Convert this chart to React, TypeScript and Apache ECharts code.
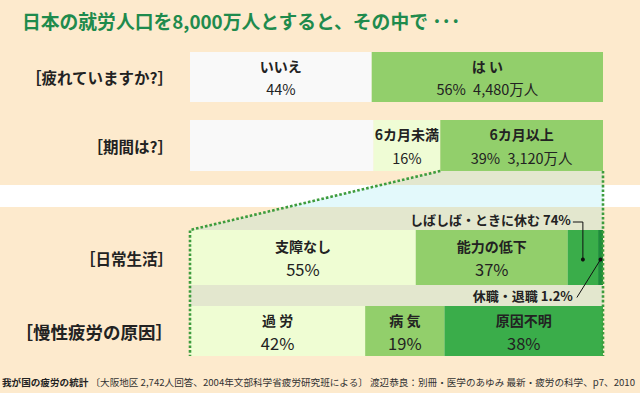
import React, { useEffect, useRef } from "react";
import * as echarts from "echarts";

// ---- data ----
const titleText = "日本の就労人口を8,000万人とすると、その中で ･･･";
const rowLabels = ["［疲れていますか?］", "［期間は?］", "［日常生活］", "［慢性疲労の原因］"];

const row1Names = ["いいえ", "は い"];
const row1Values = [44, 56];
const row1Extra = ["", "4,480万人"];

const row2Names = ["", "6カ月未満", "6カ月以上"];
const row2Values = [44, 16, 39];
const row2Extra = ["", "", "3,120万人"];

const row3Names = ["支障なし", "能力の低下", "しばしば・ときに休む", "休職・退職"];
const row3Values = [55, 37, 7.4, 1.2];
const row3Printed = ["55%", "37%", "74%", "1.2%"];

const row4Names = ["過 労", "病 気", "原因不明"];
const row4Values = [42, 19, 38];

const footerBold = "我が国の疲労の統計";
const footerText = " 〔大阪地区 2,742人回答、2004年文部科学省疲労研究班による〕 渡辺恭良：別冊・医学のあゆみ 最新・疲労の科学、p7、2010";

// ---- style ----
const FONT = "'Noto Sans CJK JP', 'Noto Sans', sans-serif";
const BG = "#fdeacd";
const WHITE = "#f9f9f9";
const MID = "#92cf6b";
const LIGHT = "#effcd5";
const PALE = "#effdd3";
const DARK = "#3aad4a";
const DARKER = "#1d8d3a";
const TRAP = "#e3e7ce";
const CYAN = "#e3f9fb";
const DOT = "#3d9c3d";
const INK = "#222222";

const grids = [
  { top: 52, height: 50 },
  { top: 120, height: 51 },
  { top: 230, height: 55 },
  { top: 306, height: 50 },
];
const LEFT = 190;
const RIGHT = 37;

type Seg = { name: string; value: number; color: string; label: string };

const rows: Seg[][] = [
  row1Names.map((n, i) => ({
    name: n,
    value: row1Values[i],
    color: i === 0 ? WHITE : MID,
    label: `{n|${n}}\n{v|${row1Values[i]}%${row1Extra[i] ? "\u2002" + row1Extra[i] : ""}}`,
  })),
  row2Names.map((n, i) => ({
    name: n,
    value: row2Values[i],
    color: i === 0 ? WHITE : i === 1 ? LIGHT : MID,
    label: n ? `{n|${n}}\n{v|${row2Values[i]}%${row2Extra[i] ? "\u2002" + row2Extra[i] : ""}}` : "",
  })),
  row3Names.map((n, i) => ({
    name: n,
    value: row3Values[i],
    color: i === 0 ? PALE : i === 1 ? MID : i === 2 ? DARK : DARKER,
    label: i < 2 ? `{n|${n}}\n{b|${row3Printed[i]}}` : "",
  })),
  row4Names.map((n, i) => ({
    name: n,
    value: row4Values[i],
    color: i === 0 ? PALE : i === 1 ? MID : DARK,
    label: `{n|${n}}\n{b|${row4Values[i]}%}`,
  })),
];

export default function App() {
  const ref = useRef<HTMLDivElement>(null);
  useEffect(() => {
    if (!ref.current) return;
    const chart = echarts.init(ref.current, undefined, { renderer: "svg" });

    const series: any[] = [];
    rows.forEach((segs, r) => {
      const sum = segs.reduce((a, s) => a + s.value, 0);
      segs.forEach((s) => {
        series.push({
          type: "bar",
          name: s.name,
          xAxisIndex: r,
          yAxisIndex: r,
          stack: "row" + r,
          barWidth: "100%",
          data: [(s.value / sum) * 100],
          itemStyle: { color: s.color },
          label: {
            show: !!s.label,
            position: "inside",
            formatter: s.label,
            color: INK,
            fontFamily: FONT,
            rich: {
              n: { fontSize: 14, fontWeight: "bold", lineHeight: 23, color: INK, fontFamily: FONT },
              v: { fontSize: 14.5, lineHeight: 23, color: INK, fontFamily: FONT },
              b: { fontSize: 16.5, lineHeight: 23, color: INK, fontFamily: FONT },
            },
          },
          silent: true,
        });
      });
    });

    chart.setOption({
      animation: false,
      backgroundColor: BG,
      grid: grids.map((g) => ({ left: LEFT, right: RIGHT, top: g.top, height: g.height })),
      xAxis: grids.map((_, i) => ({ type: "value", gridIndex: i, min: 0, max: 100, show: false })),
      yAxis: grids.map((_, i) => ({
        type: "category",
        gridIndex: i,
        data: [rowLabels[i]],
        axisLine: { show: false },
        axisTick: { show: false },
        axisLabel: {
          margin: 17,
          color: INK,
          fontFamily: FONT,
          fontWeight: "bold",
          fontSize: i === 3 ? 17.5 : 15.5,
        },
      })),
      series,
    });

    // positions from the library's scales
    const px = (r: number, v: number) => chart.convertToPixel({ gridIndex: r }, [v, 0]) as number[];
    const cum = (r: number, k: number) => {
      const segs = rows[r];
      const sum = segs.reduce((a, s) => a + s.value, 0);
      let c = 0;
      for (let i = 0; i < k; i++) c += segs[i].value;
      return (c / sum) * 100;
    };
    const x0 = px(0, 0)[0];
    const x100 = px(0, 100)[0];
    const yBot1 = grids[1].top + grids[1].height;
    const yTop2 = grids[2].top;
    const yBot2 = grids[2].top + grids[2].height;
    const yBot3 = grids[3].top + grids[3].height;
    const xA = px(1, cum(1, 2))[0];
    const A = [xA, yBot1];
    const B = [x100, yBot1];
    const C = [x100, yBot3];
    const D = [x0, yBot3];
    const E = [x0, yTop2];
    const band = { top: 185, bottom: 207 };
    const xAt = (y: number) => A[0] + ((y - A[1]) * (E[0] - A[0])) / (E[1] - A[1]);

    const c3mid = px(2, (cum(2, 2) + cum(2, 3)) / 2);
    const c4mid = px(2, (cum(2, 3) + cum(2, 4)) / 2);
    const yMid2 = c3mid[1];

    const dotted = { stroke: DOT, lineWidth: 2.6, lineDash: [2.6, 2], fill: null };

    chart.setOption({
      graphic: [
        { type: "rect", z: 0, shape: { x: 0, y: band.top, width: 640, height: band.bottom - band.top }, style: { fill: "#ffffff" } },
        { type: "polygon", z: 0, shape: { points: [A, B, C, D, E] }, style: { fill: TRAP } },
        {
          type: "polygon",
          z: 0,
          shape: { points: [[xAt(band.top), band.top], [x100, band.top], [x100, band.bottom], [xAt(band.bottom), band.bottom]] },
          style: { fill: CYAN },
        },
        { type: "polyline", z: 10, shape: { points: [A, E, D] }, style: dotted },
        { type: "line", z: 10, shape: { x1: B[0], y1: B[1], x2: C[0], y2: C[1] }, style: dotted },
        {
          type: "text",
          z: 10,
          x: 22,
          y: 20,
          style: { text: titleText, fill: "#1f8b4d", fontSize: 18.8, fontWeight: "bold", fontFamily: FONT, textAlign: "left", textVerticalAlign: "middle", align: "left", verticalAlign: "middle" },
        },
        {
          type: "text",
          z: 10,
          x: c3mid[0] - 12,
          y: yTop2 - 11,
          style: { text: `${row3Names[2]} ${row3Printed[2]}`, fill: INK, fontSize: 13, fontWeight: "bold", fontFamily: FONT, textAlign: "right", textVerticalAlign: "middle", align: "right", verticalAlign: "middle" },
        },
        {
          type: "polyline",
          z: 11,
          shape: { points: [[c3mid[0] - 10, yTop2 - 8], [c3mid[0], yTop2 - 8], [c3mid[0], yMid2 + 2]] },
          style: { stroke: "#111", lineWidth: 1, fill: null },
        },
        { type: "circle", z: 11, shape: { cx: c3mid[0], cy: yMid2 + 2, r: 2 }, style: { fill: "#111" } },
        {
          type: "text",
          z: 10,
          x: c3mid[0] - 10,
          y: (yBot2 + grids[3].top) / 2,
          style: { text: `${row3Names[3]} ${row3Printed[3]}`, fill: INK, fontSize: 13, fontWeight: "bold", fontFamily: FONT, textAlign: "right", textVerticalAlign: "middle", align: "right", verticalAlign: "middle" },
        },
        {
          type: "line",
          z: 11,
          shape: { x1: c3mid[0] - 6, y1: (yBot2 + grids[3].top) / 2 + 2, x2: c4mid[0], y2: yMid2 + 2 },
          style: { stroke: "#111", lineWidth: 1 },
        },
        { type: "circle", z: 11, shape: { cx: c4mid[0], cy: yMid2 + 2, r: 2 }, style: { fill: "#111" } },
        {
          type: "text",
          z: 10,
          x: 2,
          y: 382,
          style: {
            text: `{b|${footerBold}}{n|${footerText}}`,
            rich: {
              b: { fontSize: 9.6, fontWeight: "bold", fill: "#222", fontFamily: FONT },
              n: { fontSize: 9.6, fill: "#333", fontFamily: FONT },
            },
            textAlign: "left",
            textVerticalAlign: "middle",
            align: "left",
            verticalAlign: "middle",
          },
        },
      ],
    });

    return () => chart.dispose();
  }, []);
  return <div ref={ref} style={{ position: "fixed", left: 0, top: 0, width: 640, height: 393 }} />;
}
